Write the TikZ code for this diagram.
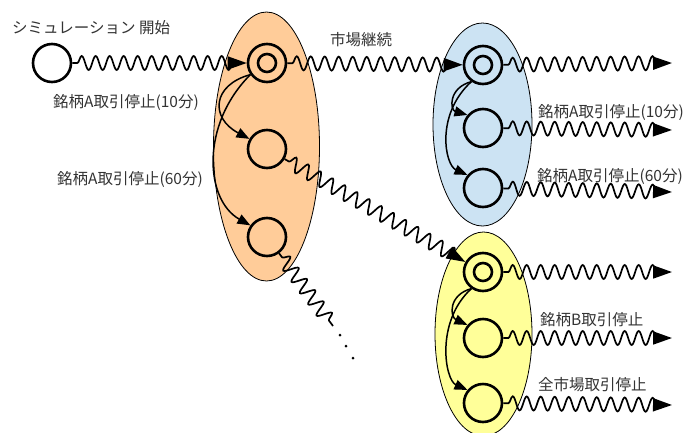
\documentclass[tikz,border=0pt]{standalone}
\usepackage{fontspec}
\newfontfamily\jpfont{Noto Sans CJK JP}
\usetikzlibrary{arrows.meta,decorations.pathmorphing,shapes.geometric}
\definecolor{peach}{HTML}{FFCC99}
\definecolor{skyfill}{HTML}{CCE3F3}
\definecolor{lemon}{HTML}{FFFF99}
\definecolor{ink}{HTML}{333333}
\tikzset{
  group/.style={ellipse, draw=black, line width=0.8pt, inner sep=0pt},
  stnode/.style={circle, draw=black, line width=2.6pt, minimum size=38pt, inner sep=0pt},
  dblnode/.style={stnode, path picture={\draw[line width=2.6pt] (path picture bounding box.center) circle (9pt);}},
  wavy/.style={line width=1.7pt, decorate,
    decoration={snake, amplitude=7pt, segment length=14pt, pre length=5pt, post length=11pt}},
  wavyarrow/.style={wavy, -{Triangle[length=19pt, width=13pt]}},
  branch/.style={line width=1.5pt, -{Triangle[length=13pt, width=10pt]}},
  lbl/.style={font=\jpfont\fontsize{15.5}{17}\selectfont, text=ink, inner sep=0pt, anchor=west},
  dotmark/.style={circle, fill=black, minimum size=3pt, inner sep=0pt}
}
\begin{document}
\begin{tikzpicture}[x=1pt, y=-1pt]
\useasboundingbox (0,0) rectangle (697,432);

% groups of states
\node[group, fill=peach, minimum width=106pt, minimum height=269pt] (gA) at (266.5,146.5) {};
\node[group, fill=skyfill, minimum width=99pt, minimum height=203pt] (gB) at (482.5,124.5) {};
\node[group, fill=lemon, minimum width=97pt, minimum height=204pt] (gC) at (483.5,334) {};

% states
\node[stnode] (s) at (52,63) {};
\node[dblnode] (a1) at (267,63) {};
\node[stnode] (a2) at (267,149) {};
\node[stnode] (a3) at (267,237) {};
\node[dblnode] (b1) at (483,65) {};
\node[stnode] (b2) at (483,128) {};
\node[stnode] (b3) at (483,188) {};
\node[dblnode] (c1) at (483,272) {};
\node[stnode] (c2) at (483,338) {};
\node[stnode] (c3) at (483,403) {};

% free ends
\coordinate (eb1) at (672,63);
\coordinate (eb2) at (672,130);
\coordinate (eb3) at (672,192);
\coordinate (ec1) at (672,272);
\coordinate (ec2) at (672,338);
\coordinate (ec3) at (672,405);
\coordinate (tail) at (333,326);

% transitions over time
\draw[wavyarrow] (s) -- (a1);
\draw[wavyarrow] (a1) -- (b1);
\draw[wavyarrow] (a2) -- (c1);
\draw[wavy, decoration={post length=0pt}] (a3) -- (tail);
\draw[wavyarrow] (b1) -- (eb1);
\draw[wavyarrow] (b2) -- (eb2);
\draw[wavyarrow] (b3) -- (eb3);
\draw[wavyarrow] (c1) -- (ec1);
\draw[wavyarrow] (c2) -- (ec2);
\draw[wavyarrow] (c3) -- (ec3);

% continuation dots
\node[dotmark] (d1) at (340,335) {};
\node[dotmark] (d2) at (346,346) {};
\node[dotmark] (d3) at (353,358) {};

% branches inside each group
\draw[branch] (a1.215) .. controls (212,85) and (210,118) .. (a2.150);
\draw[branch] (a1.215) .. controls (200,125) and (205,200) .. (a3.145);
\draw[branch] (b1.235) .. controls (448,88) and (450,110) .. (b2.140);
\draw[branch] (b1.235) .. controls (435,115) and (445,165) .. (b3.140);
\draw[branch] (c1.235) .. controls (448,295) and (450,317) .. (c2.140);
\draw[branch] (c1.235) .. controls (435,322) and (445,380) .. (c3.140);

% labels
\node[lbl] (tstart) at (12,28) {シミュレーション 開始};
\node[lbl] (tcont) at (330,40) {市場継続};
\node[lbl] (tA10) at (53,103) {銘柄A取引停止(10分)};
\node[lbl] (tA60) at (57,180) {銘柄A取引停止(60分)};
\node[lbl] (tB10) at (538,113) {銘柄A取引停止(10分)};
\node[lbl] (tB60) at (537,177) {銘柄A取引停止(60分)};
\node[lbl] (tCB) at (540,320) {銘柄B取引停止};
\node[lbl] (tCall) at (538,385) {全市場取引停止};
\end{tikzpicture}
\end{document}
